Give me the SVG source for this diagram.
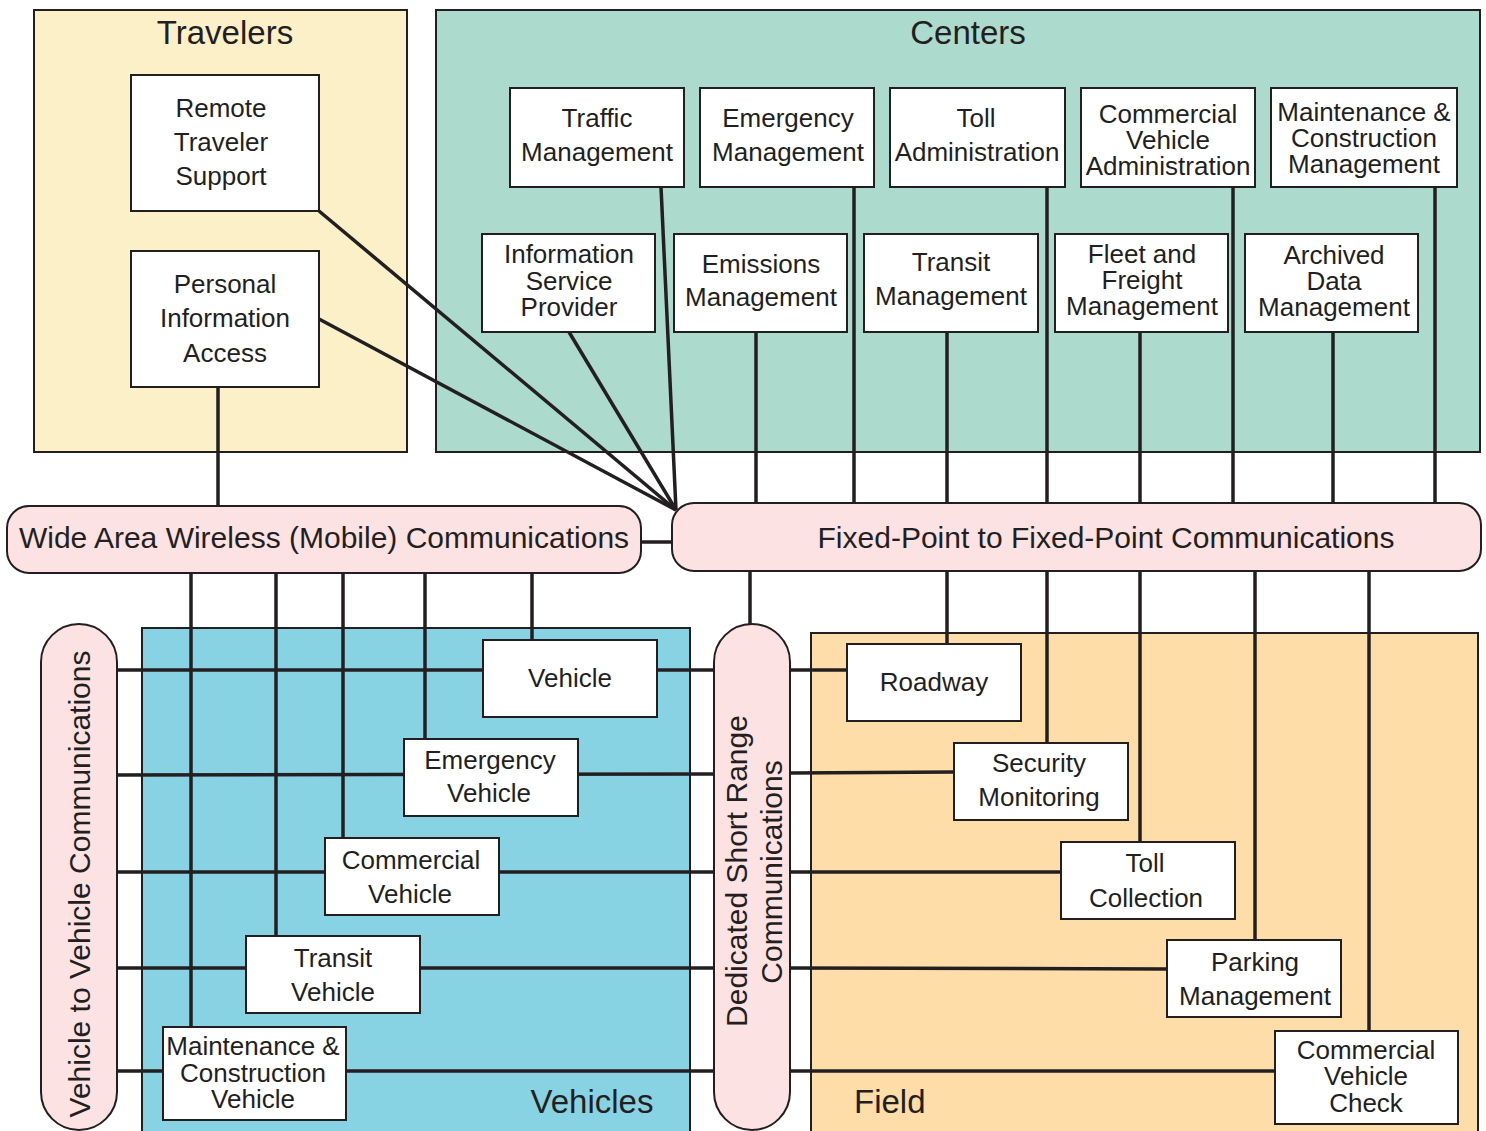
<svg xmlns="http://www.w3.org/2000/svg" width="1486" height="1131" viewBox="0 0 1486 1131">
  <style>
    .grp { stroke: #231f20; stroke-width: 2; }
    .trav { fill: #fcf0c8; }
    .cent { fill: #acdacc; }
    .veh { fill: #88d3e3; }
    .fld { fill: #fedda8; }
    .pill { fill: #fde2e3; stroke: #231f20; stroke-width: 2; }
    .box { fill: #ffffff; stroke: #231f20; stroke-width: 2; }
    .c { stroke: #231f20; stroke-width: 3.5; fill: none; }
    text { font-family: "Liberation Sans", Arial, sans-serif; fill: #231f20; }
    .t { font-size: 26px; text-anchor: middle; }
    .title { font-size: 33px; }
    .comm { font-size: 30px; text-anchor: middle; }
  </style>

  <!-- area containers -->
  <g id="travelers">
    <rect class="grp trav" x="34" y="10" width="373" height="442"/>
    <text class="title" x="225" y="44" text-anchor="middle">Travelers</text>
  </g>
  <g id="centers">
    <rect class="grp cent" x="436" y="10" width="1044" height="442"/>
    <text class="title" x="968" y="44" text-anchor="middle">Centers</text>
  </g>
  <g id="vehicles">
    <rect class="grp veh" x="142" y="628" width="548" height="520"/>
    <text class="title" x="592" y="1113" text-anchor="middle">Vehicles</text>
  </g>
  <g id="field">
    <rect class="grp fld" x="811" y="633" width="667" height="520"/>
    <text class="title" x="854" y="1113">Field</text>
  </g>

  <!-- connectors -->
  <g id="connectors">
    <!-- travelers / centers to fixed-point -->
    <line class="c" x1="319" y1="211" x2="676" y2="510"/>
    <line class="c" x1="319" y1="319" x2="676" y2="510"/>
    <line class="c" x1="569" y1="332" x2="676" y2="510"/>
    <line class="c" x1="661" y1="187" x2="676" y2="510"/>
    <line class="c" x1="218" y1="387" x2="218" y2="506"/>
    <line class="c" x1="854" y1="187" x2="854" y2="503"/>
    <line class="c" x1="1047" y1="187" x2="1047" y2="503"/>
    <line class="c" x1="1233" y1="187" x2="1233" y2="503"/>
    <line class="c" x1="1435" y1="187" x2="1435" y2="503"/>
    <line class="c" x1="756" y1="332" x2="756" y2="503"/>
    <line class="c" x1="947" y1="332" x2="947" y2="503"/>
    <line class="c" x1="1140" y1="332" x2="1140" y2="503"/>
    <line class="c" x1="1333" y1="332" x2="1333" y2="503"/>
    <!-- wide area to fixed-point -->
    <line class="c" x1="641" y1="542" x2="672" y2="542"/>
    <!-- wide area down to vehicles -->
    <line class="c" x1="191" y1="573" x2="191" y2="1027"/>
    <line class="c" x1="276" y1="573" x2="276" y2="936"/>
    <line class="c" x1="343" y1="573" x2="343" y2="838"/>
    <line class="c" x1="425" y1="573" x2="425" y2="739"/>
    <line class="c" x1="532" y1="573" x2="532" y2="640"/>
    <!-- fixed-point down to field and DSRC -->
    <line class="c" x1="750" y1="571" x2="750" y2="624"/>
    <line class="c" x1="947" y1="571" x2="947" y2="644"/>
    <line class="c" x1="1047" y1="571" x2="1047" y2="743"/>
    <line class="c" x1="1140" y1="571" x2="1140" y2="842"/>
    <line class="c" x1="1255" y1="571" x2="1255" y2="940"/>
    <line class="c" x1="1369" y1="571" x2="1369" y2="1031"/>
    <!-- vehicle to vehicle / DSRC links -->
    <line class="c" x1="117" y1="670" x2="714" y2="670"/>
    <line class="c" x1="117" y1="775" x2="714" y2="774"/>
    <line class="c" x1="117" y1="872" x2="714" y2="872"/>
    <line class="c" x1="117" y1="968" x2="714" y2="968"/>
    <line class="c" x1="117" y1="1071" x2="714" y2="1071"/>
    <line class="c" x1="790" y1="670" x2="847" y2="670"/>
    <line class="c" x1="790" y1="773" x2="954" y2="772"/>
    <line class="c" x1="790" y1="872" x2="1061" y2="872"/>
    <line class="c" x1="790" y1="968" x2="1167" y2="969"/>
    <line class="c" x1="790" y1="1071" x2="1275" y2="1071"/>
  </g>

  <!-- communications -->
  <g id="wide-area-wireless">
    <rect class="pill" x="7" y="506" width="634" height="67" rx="22"/>
    <text class="comm" x="324" y="548">Wide Area Wireless (Mobile) Communications</text>
  </g>
  <g id="fixed-point">
    <rect class="pill" x="672" y="503" width="809" height="68" rx="22"/>
    <text class="comm" x="1106" y="548">Fixed-Point to Fixed-Point Communications</text>
  </g>
  <g id="vehicle-to-vehicle">
    <rect class="pill" x="41" y="624" width="76" height="506" rx="38"/>
    <text class="comm" transform="translate(90,884) rotate(-90)">Vehicle to Vehicle Communications</text>
  </g>
  <g id="dsrc">
    <rect class="pill" x="714" y="624" width="76" height="506" rx="38"/>
    <text class="comm" transform="translate(747,871) rotate(-90)">Dedicated Short Range</text>
    <text class="comm" transform="translate(782,872) rotate(-90)">Communications</text>
  </g>

  <!-- travelers -->
  <g id="remote-traveler-support">
    <rect class="box" x="131" y="75" width="188" height="136"/>
    <text class="t" x="221" y="117">Remote</text>
    <text class="t" x="221" y="151">Traveler</text>
    <text class="t" x="221" y="185">Support</text>
  </g>
  <g id="personal-information-access">
    <rect class="box" x="131" y="251" width="188" height="136"/>
    <text class="t" x="225" y="293">Personal</text>
    <text class="t" x="225" y="327">Information</text>
    <text class="t" x="225" y="362">Access</text>
  </g>

  <!-- centers -->
  <g id="traffic-management">
    <rect class="box" x="510" y="88" width="174" height="99"/>
    <text class="t" x="597" y="127">Traffic</text>
    <text class="t" x="597" y="161">Management</text>
  </g>
  <g id="emergency-management">
    <rect class="box" x="700" y="88" width="174" height="99"/>
    <text class="t" x="788" y="127">Emergency</text>
    <text class="t" x="788" y="161">Management</text>
  </g>
  <g id="toll-administration">
    <rect class="box" x="890" y="88" width="175" height="99"/>
    <text class="t" x="976" y="127">Toll</text>
    <text class="t" x="977" y="161">Administration</text>
  </g>
  <g id="cv-administration">
    <rect class="box" x="1081" y="88" width="174" height="99"/>
    <text class="t" x="1168" y="123">Commercial</text>
    <text class="t" x="1168" y="149">Vehicle</text>
    <text class="t" x="1168" y="175">Administration</text>
  </g>
  <g id="mc-management">
    <rect class="box" x="1271" y="88" width="186" height="99"/>
    <text class="t" x="1364" y="121">Maintenance &amp;</text>
    <text class="t" x="1364" y="147">Construction</text>
    <text class="t" x="1364" y="173">Management</text>
  </g>
  <g id="information-service-provider">
    <rect class="box" x="482" y="234" width="173" height="98"/>
    <text class="t" x="569" y="263">Information</text>
    <text class="t" x="569" y="290">Service</text>
    <text class="t" x="569" y="316">Provider</text>
  </g>
  <g id="emissions-management">
    <rect class="box" x="674" y="234" width="173" height="98"/>
    <text class="t" x="761" y="273">Emissions</text>
    <text class="t" x="761" y="306">Management</text>
  </g>
  <g id="transit-management">
    <rect class="box" x="864" y="234" width="174" height="98"/>
    <text class="t" x="951" y="271">Transit</text>
    <text class="t" x="951" y="305">Management</text>
  </g>
  <g id="fleet-freight-management">
    <rect class="box" x="1055" y="234" width="173" height="98"/>
    <text class="t" x="1142" y="263">Fleet and</text>
    <text class="t" x="1142" y="289">Freight</text>
    <text class="t" x="1142" y="315">Management</text>
  </g>
  <g id="archived-data-management">
    <rect class="box" x="1245" y="234" width="173" height="98"/>
    <text class="t" x="1334" y="264">Archived</text>
    <text class="t" x="1334" y="290">Data</text>
    <text class="t" x="1334" y="316">Management</text>
  </g>

  <!-- vehicles -->
  <g id="vehicle">
    <rect class="box" x="483" y="640" width="174" height="77"/>
    <text class="t" x="570" y="687">Vehicle</text>
  </g>
  <g id="emergency-vehicle">
    <rect class="box" x="404" y="739" width="174" height="77"/>
    <text class="t" x="490" y="769">Emergency</text>
    <text class="t" x="489" y="802">Vehicle</text>
  </g>
  <g id="commercial-vehicle">
    <rect class="box" x="325" y="838" width="174" height="77"/>
    <text class="t" x="411" y="869">Commercial</text>
    <text class="t" x="410" y="903">Vehicle</text>
  </g>
  <g id="transit-vehicle">
    <rect class="box" x="246" y="936" width="174" height="77"/>
    <text class="t" x="333" y="967">Transit</text>
    <text class="t" x="333" y="1001">Vehicle</text>
  </g>
  <g id="mc-vehicle">
    <rect class="box" x="163" y="1027" width="183" height="93"/>
    <text class="t" x="253" y="1055">Maintenance &amp;</text>
    <text class="t" x="253" y="1082">Construction</text>
    <text class="t" x="253" y="1108">Vehicle</text>
  </g>

  <!-- field -->
  <g id="roadway">
    <rect class="box" x="847" y="644" width="174" height="77"/>
    <text class="t" x="934" y="691">Roadway</text>
  </g>
  <g id="security-monitoring">
    <rect class="box" x="954" y="743" width="174" height="77"/>
    <text class="t" x="1039" y="772">Security</text>
    <text class="t" x="1039" y="806">Monitoring</text>
  </g>
  <g id="toll-collection">
    <rect class="box" x="1061" y="842" width="174" height="77"/>
    <text class="t" x="1145" y="872">Toll</text>
    <text class="t" x="1146" y="907">Collection</text>
  </g>
  <g id="parking-management">
    <rect class="box" x="1167" y="940" width="174" height="77"/>
    <text class="t" x="1255" y="971">Parking</text>
    <text class="t" x="1255" y="1005">Management</text>
  </g>
  <g id="cv-check">
    <rect class="box" x="1275" y="1031" width="183" height="93"/>
    <text class="t" x="1366" y="1059">Commercial</text>
    <text class="t" x="1366" y="1085">Vehicle</text>
    <text class="t" x="1366" y="1112">Check</text>
  </g>
</svg>
